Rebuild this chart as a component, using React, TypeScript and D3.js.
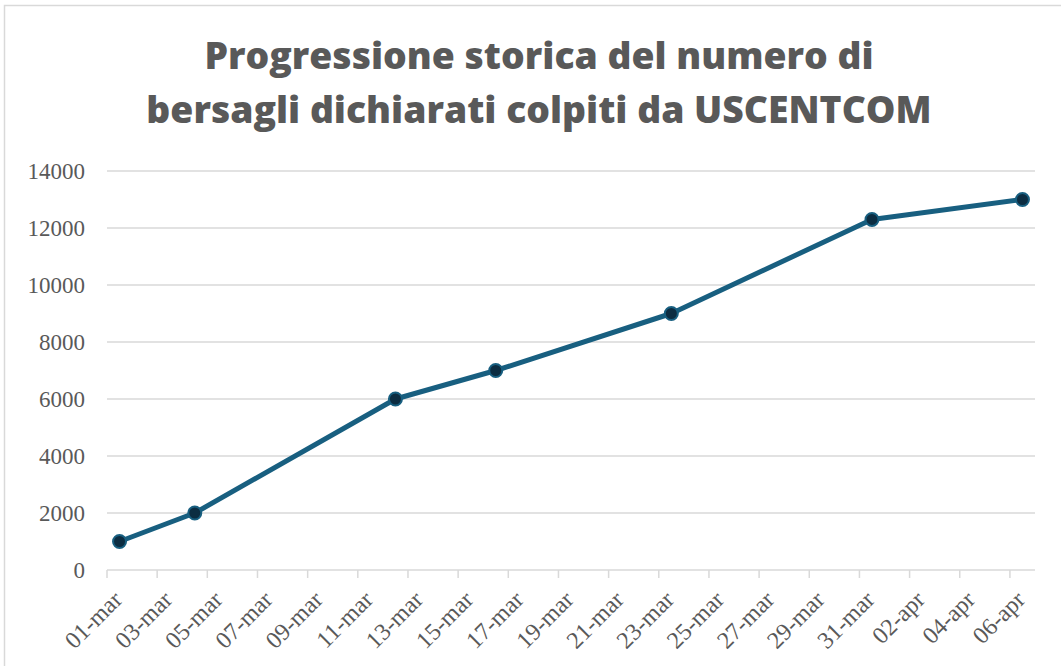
import React from "react";
import * as d3 from "d3";

// dati
const dates = ["2026-03-01", "2026-03-04", "2026-03-12", "2026-03-16", "2026-03-23", "2026-03-31", "2026-04-06"];
const targets = [1000, 2000, 6000, 7000, 9000, 12300, 13000];
const yTicks = [0, 2000, 4000, 6000, 8000, 10000, 12000, 14000];
const monthAbbr = ["gen", "feb", "mar", "apr", "mag", "giu", "lug", "ago", "set", "ott", "nov", "dic"];
const titleLines = ["Progressione storica del numero di", "bersagli dichiarati colpiti da USCENTCOM"];

const W = 1061;
const H = 666;
const margin = { top: 171, right: 26, bottom: 96, left: 107 };

const textColor = "#595959";
const gridColor = "#d9d9d9";
const lineColor = "#185f80";
const markerFill = "#0c2d42";
const serif = "'Liberation Serif', 'DejaVu Serif', 'Times New Roman', serif";

const App = () => {
  const parse = d3.utcParse("%Y-%m-%d");
  const data = dates.map((d, i) => ({ date: parse(d) as Date, value: targets[i] }));

  const start = d3.utcDay.floor(data[0].date);
  const end = d3.utcDay.offset(data[data.length - 1].date, 1);

  const x = d3.scaleUtc().domain([start, end]).range([margin.left, W - margin.right]);
  const y = d3.scaleLinear().domain([0, 14000]).range([H - margin.bottom, margin.top]);

  // Excel-style date axis: each point sits in the middle of its day
  const mid = (d: Date) => x(d3.utcHour.offset(d, 12));

  const line = d3
    .line<{ date: Date; value: number }>()
    .x((d) => mid(d.date))
    .y((d) => y(d.value));

  const ticks = d3.utcDay.range(start, end, 2);
  const fmt = (d: Date) => d3.utcFormat("%d")(d) + "-" + monthAbbr[d.getUTCMonth()];

  const y0 = y(0);

  return (
    <svg width={W} height={H} style={{ position: "absolute", left: 0, top: 0, background: "#fff" }}>
      <rect x={4.5} y={5.5} width={W + 10} height={H + 10} fill="#fff" stroke={gridColor} strokeWidth={1.5} />

      {titleLines.map((t, i) => (
        <text
          key={i}
          x={539}
          y={69 + i * 54}
          textAnchor="middle"
          fill={textColor}
          fontFamily="'Open Sans', sans-serif"
          fontWeight={800}
          fontSize={37.3}
        >
          {t}
        </text>
      ))}

      {/* griglia + etichette asse y */}
      {yTicks.map((v) => (
        <g key={v}>
          {v > 0 && (
            <line x1={margin.left} x2={W - margin.right} y1={y(v)} y2={y(v)} stroke={gridColor} strokeWidth={1.5} />
          )}
          <text x={85} y={y(v)} dy="0.35em" textAnchor="end" fill={textColor} fontFamily={serif} fontSize={23}>
            {v}
          </text>
        </g>
      ))}

      {/* asse x */}
      <line x1={margin.left} x2={W - margin.right} y1={y0} y2={y0} stroke={gridColor} strokeWidth={1.5} />
      {ticks.map((d) => (
        <g key={+d}>
          <line x1={x(d)} x2={x(d)} y1={y0} y2={y0 + 8} stroke={gridColor} strokeWidth={1.5} />
          <text
            transform={`translate(${mid(d) + 4},${y0 + 31}) rotate(-45)`}
            textAnchor="end"
            fill={textColor}
            fontFamily={serif}
            fontSize={24}
          >
            {fmt(d)}
          </text>
        </g>
      ))}

      <path d={line(data) || ""} fill="none" stroke={lineColor} strokeWidth={5} strokeLinejoin="round" />
      {data.map((d, i) => (
        <circle key={i} cx={mid(d.date)} cy={y(d.value)} r={6.5} fill={markerFill} stroke={lineColor} strokeWidth={2} />
      ))}
    </svg>
  );
};

export default App;
